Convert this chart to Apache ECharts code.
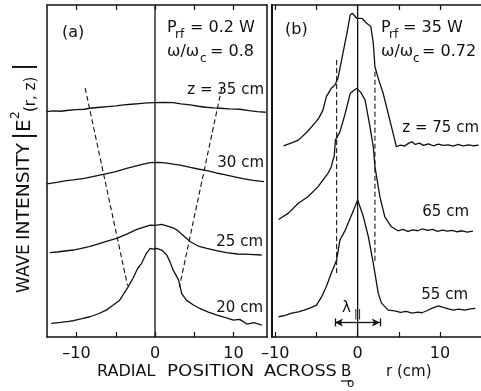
<!DOCTYPE html>
<html><head><meta charset="utf-8">
<script src="https://cdn.jsdelivr.net/npm/echarts@6/dist/echarts.min.js"></script>
<style>html,body{margin:0;padding:0;background:#fff}#c{width:481px;height:391px}</style>
</head><body><div id="c"></div>
<script>
// ---- data: radial position r (cm), wave intensity (arb. units, 0..100) ----
const tickValues = [-10, -5, 0, 5, 10];
const tickLabels = [-10, 0, 10];

// Panel (a): Prf = 0.2 W, w/wc = 0.8
const a_z35 = [[-13.8,67.9],[-13,68.1],[-12,68.0],[-11,68.3],[-10,68.5],[-9,68.6],[-8.3,68.9],[-7,69.2],[-6,69.4],[-5,69.6],[-4,69.9],[-3,70.1],[-2,70.3],[-1,70.5],[0,70.6],[1,70.7],[2.3,70.6],[3.3,70.2],[4.5,69.9],[5.5,69.5],[6.5,69.2],[7.5,69.0],[8.3,68.9],[9.5,68.7],[10.8,68.6],[12,68.2],[13,67.9],[14.1,67.7]];
const a_z30 = [[-13.8,46.1],[-12.5,46.6],[-11.5,47.0],[-10.4,47.3],[-9,47.8],[-7.8,48.4],[-6.6,49.0],[-5,49.8],[-3.6,50.8],[-2.5,51.5],[-1.5,52.1],[-0.6,52.5],[0.6,52.6],[1.5,52.4],[2.3,52.1],[3.2,51.8],[4.5,51.1],[5.5,50.6],[6.6,50.1],[7.8,49.4],[9,48.8],[10,48.3],[11.2,47.7],[12.5,47.2],[13.9,46.8]];
const a_z25 = [[-13.4,25.4],[-12.5,25.6],[-11.5,25.9],[-10.4,26.2],[-9.5,26.6],[-8.4,27.2],[-7.4,27.9],[-6.2,28.8],[-4.9,29.7],[-3.6,31.0],[-2.3,32.4],[-1.4,33.1],[-0.6,33.7],[0,33.6],[0.85,33.9],[1.6,33.4],[2.3,32.9],[2.8,32.2],[3.5,30.8],[4.5,28.7],[5.5,27.4],[6.6,26.7],[7.8,26.0],[9.1,25.4],[10.5,25.0],[12,24.9],[13.6,24.7]];
const a_z20 = [[-13.2,4.1],[-12,4.4],[-11,4.7],[-10.4,4.9],[-9.3,5.5],[-8.3,6.1],[-7.2,7.0],[-6.2,8.1],[-5.4,9.5],[-4.5,11.1],[-3.5,14.8],[-2.8,17.7],[-2.2,20.7],[-1.7,22.2],[-1.1,25.2],[-0.6,26.7],[-0.2,26.5],[0.2,26.7],[0.85,26.2],[1.5,24.7],[1.9,22.7],[2.3,20.2],[3.0,17.2],[3.4,13.1],[4.0,11.1],[4.8,9.8],[5.7,8.6],[6.8,7.5],[7.9,6.6],[9,5.8],[10,5.1],[10.8,5.3],[11.7,3.9],[12.6,4.3],[13.6,3.6]];
const a_dashL = [[-8.9,75.0],[-3.5,15.5]];
const a_dashR = [[8.5,75.0],[3.1,15.0]];

// Panel (b): Prf = 35 W, w/wc = 0.72
const b_z75 = [[-9.0,57.6],[-8.1,58.4],[-7.2,59.3],[-6.2,61.6],[-5.2,64.4],[-4.7,66.0],[-4.2,68.4],[-3.8,72.4],[-3.2,74.9],[-2.75,75.9],[-2.4,77.9],[-1.95,83.4],[-1.3,91.5],[-0.9,97.0],[-0.65,97.5],[-0.1,96.0],[0.5,96.0],[1.1,94.5],[1.6,93.5],[1.9,88.5],[2.1,81.4],[2.5,77.9],[3.1,73.4],[3.7,67.4],[4.3,61.4],[4.7,57.3],[5.2,57.8],[5.7,57.5],[6.2,58.4],[6.6,58.8],[7.0,58.0],[7.5,58.4],[8.0,57.7],[8.6,58.2],[9.2,57.6],[9.8,58.1],[10.4,57.7],[11.0,57.9],[11.6,57.5],[12.2,58.0],[12.8,57.6],[13.5,57.9],[14.1,57.6],[14.7,57.8]];
const b_z65 = [[-9.6,35.4],[-8.4,37.3],[-7.2,40.3],[-6.0,42.3],[-4.8,45.3],[-4.2,47.3],[-3.6,49.3],[-3.2,51.3],[-3.0,53.3],[-2.85,54.3],[-2.7,59.3],[-2.15,61.8],[-1.5,67.4],[-0.9,73.4],[-0.1,74.9],[0.4,73.6],[0.9,71.4],[1.5,63.3],[1.9,57.3],[2.1,51.3],[2.7,42.3],[3.3,36.2],[4.1,33.2],[4.9,32.0],[5.5,32.4],[6.1,31.8],[6.7,32.3],[7.3,32.0],[7.9,32.6],[8.5,32.1],[9.1,32.4],[9.7,31.8],[10.3,32.2],[10.9,31.9],[11.5,32.1],[12.1,31.7],[12.7,32.0],[13.3,31.6],[14.0,31.9]];
const b_z55 = [[-9.6,6.1],[-8.8,6.5],[-8.0,7.2],[-7.2,7.6],[-6.5,8.1],[-5.8,8.7],[-5.0,9.6],[-4.4,12.0],[-3.8,15.2],[-3.2,19.2],[-2.55,23.2],[-2.15,29.2],[-1.5,32.2],[-0.9,35.8],[-0.4,38.8],[0,41.3],[0.7,36.2],[1.3,30.2],[1.9,22.2],[2.5,13.2],[2.9,10.2],[3.7,8.1],[4.5,7.9],[5.2,7.4],[5.9,7.7],[6.6,7.2],[7.3,7.5],[7.8,7.3],[8.4,7.9],[9.0,8.6],[9.8,9.4],[10.4,8.9],[11.0,8.5],[11.6,8.1],[12.3,8.4],[13.0,8.1],[13.7,8.5],[14.3,8.6]];
const b_dashL = [[-2.55,83.4],[-2.55,19.3]];
const b_dashR = [[2.1,79.9],[2.1,22.3]];
const b_lambda = [-2.75, 2.7, 4.4]; // from, to, height

const centerLine = [[0,0],[0,100]];

// ---- chart ----
const FONT = 'DejaVu Sans';
const BLACK = '#111';
const chart = echarts.init(document.getElementById('c'), null, {renderer: 'canvas'});

function fmt(v){ return v < 0 ? '\u2013' + Math.abs(v) : String(v); }
function xAxis(gi, min, max, pos, showLabel){
  return {
    type: 'value', gridIndex: gi, min: min, max: max, position: pos,
    axisLine: {show: true, onZero: false, lineStyle: {color: BLACK, width: 1.5}},
    axisTick: {show: true, inside: true, length: 5, customValues: tickValues, lineStyle: {color: BLACK, width: 1.2}},
    axisLabel: {show: showLabel, customValues: tickLabels, formatter: fmt, color: BLACK, fontFamily: FONT, fontSize: 16, margin: 9},
    splitLine: {show: false}
  };
}
function yAxis(gi, pos, w){
  return {
    type: 'value', gridIndex: gi, min: 0, max: 100, position: pos,
    axisLine: {show: true, onZero: false, lineStyle: {color: BLACK, width: w}},
    axisTick: {show: false}, axisLabel: {show: false}, splitLine: {show: false}
  };
}
function trace(data, xi, yi, w){
  return {type: 'line', data: data, xAxisIndex: xi, yAxisIndex: yi, showSymbol: false, symbol: 'none',
    lineStyle: {color: BLACK, width: w || 1.3}, animation: false, silent: true};
}
function dashed(data, xi, yi){
  return {type: 'line', data: data, xAxisIndex: xi, yAxisIndex: yi, showSymbol: false, symbol: 'none',
    lineStyle: {color: BLACK, width: 1.1, type: [5, 3]}, animation: false, silent: true};
}
function txt(x, y, s, size, align, extra){
  return Object.assign({type: 'text', x: x, y: y, silent: true,
    style: {text: s, font: size + 'px "' + FONT + '"', fill: BLACK, align: align || 'left', verticalAlign: 'middle'}}, extra || {});
}

const option = {
  animation: false,
  backgroundColor: '#fff',
  grid: [
    {left: 47, top: 5, width: 220, height: 332},
    {left: 272, top: 5, width: 209, height: 332}
  ],
  xAxis: [
    xAxis(0, -13.76, 14.27, 'bottom', true),
    xAxis(0, -13.76, 14.27, 'top', false),
    xAxis(1, -10.4, 14.98, 'bottom', true),
    xAxis(1, -10.4, 14.98, 'top', false)
  ],
  yAxis: [
    yAxis(0, 'left', 1.5),
    yAxis(0, 'right', 1.5),
    yAxis(1, 'left', 2)
  ],
  series: [
    trace(centerLine, 0, 0, 1.3),
    trace(a_z35, 0, 0), trace(a_z30, 0, 0), trace(a_z25, 0, 0), trace(a_z20, 0, 0),
    dashed(a_dashL, 0, 0), dashed(a_dashR, 0, 0),
    trace(centerLine, 2, 2, 1.3),
    trace(b_z75, 2, 2), trace(b_z65, 2, 2), trace(b_z55, 2, 2),
    dashed(b_dashL, 2, 2), dashed(b_dashR, 2, 2),
    {type: 'line', data: [], xAxisIndex: 2, yAxisIndex: 2, animation: false, silent: true,
     markLine: {silent: true, animation: false, label: {show: false},
       lineStyle: {color: BLACK, width: 1.3, type: 'solid'},
       data: [
         [{coord: [0, b_lambda[2]], symbol: 'none'}, {coord: [b_lambda[0], b_lambda[2]], symbol: 'arrow', symbolSize: [6, 8]}],
         [{coord: [0, b_lambda[2]], symbol: 'none'}, {coord: [b_lambda[1], b_lambda[2]], symbol: 'arrow', symbolSize: [6, 8]}],
         [{coord: [b_lambda[0], b_lambda[2] - 1.2], symbol: 'none'}, {coord: [b_lambda[0], b_lambda[2] + 1.2], symbol: 'none'}],
         [{coord: [b_lambda[1], b_lambda[2] - 1.2], symbol: 'none'}, {coord: [b_lambda[1], b_lambda[2] + 1.2], symbol: 'none'}]
       ]}}
  ],
  graphic: {elements: [
    // panel (a) annotations
    txt(62, 33, '(a)', 16),
    txt(167, 28, 'P', 16), txt(175, 35, 'rf', 12), txt(190, 28, '= 0.2 W', 16),
    txt(167, 52, '\u03c9/\u03c9', 16), txt(200, 59, 'c', 12), txt(210, 52, '= 0.8', 16),
    txt(264, 90, 'z = 35 cm', 15, 'right'),
    txt(264, 163, '30 cm', 15, 'right'),
    txt(263, 242, '25 cm', 15, 'right'),
    txt(263, 308, '20 cm', 15, 'right'),
    // panel (b) annotations
    txt(285, 30, '(b)', 16),
    txt(381, 28, 'P', 16), txt(389, 35, 'rf', 12), txt(403, 28, '= 35 W', 16),
    txt(381, 52, '\u03c9/\u03c9', 16), txt(413, 59, 'c', 12), txt(422, 52, '= 0.72', 16),
    txt(479, 128, 'z = 75 cm', 15, 'right'),
    txt(469, 212, '65 cm', 15, 'right'),
    txt(468, 295, '55 cm', 15, 'right'),
    txt(342, 308, '\u03bb', 15), txt(354, 314, '||', 11),
    // x title
    txt(97, 372, 'RADIAL', 15, 'left', {scaleX: 1.07}),
    txt(167, 372, 'POSITION', 15, 'left', {scaleX: 1.22}),
    txt(264, 372, 'ACROSS', 15, 'left', {scaleX: 1.18}),
    txt(341, 372, 'B', 15), txt(347, 384, 'o', 12),
    {type: 'line', silent: true, shape: {x1: 341, y1: 381, x2: 351, y2: 381}, style: {stroke: BLACK, lineWidth: 1.2}},
    txt(386, 372, 'r (cm)', 15),
    // y title (rotated, reads bottom to top)
    {type: 'group', x: 25, y: 293, rotation: Math.PI / 2, silent: true, children: [
      txt(0, 0, 'WAVE', 17),
      txt(53, 0, 'INTENSITY', 17, 'left', {scaleX: 1.1}),
      txt(153, 0, '|', 24),
      txt(161, 0, 'E', 20),
      txt(174, -9, '2', 12),
      txt(181, 6, '(r, z)', 15),
      txt(222, 0, '|', 24)
    ]}
  ]}
};
chart.setOption(option);
</script>
</body></html>
